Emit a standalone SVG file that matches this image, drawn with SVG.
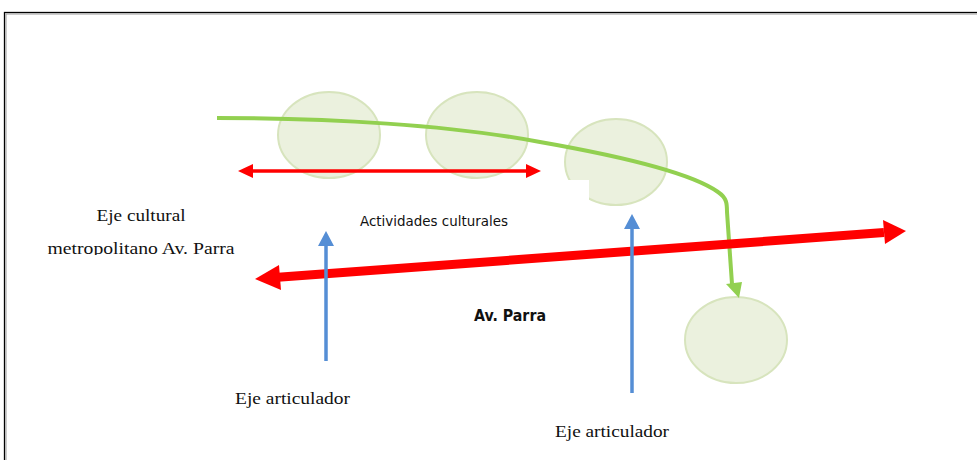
<svg xmlns="http://www.w3.org/2000/svg" width="977" height="460" viewBox="0 0 977 460">
<defs>
<style>
.circ{fill:#EBF1DE;stroke:#D7E4BD;stroke-width:2}
.lbl{font-family:"Liberation Serif","DejaVu Serif",serif;font-size:16px;fill:#111}
.narrow{font-family:"Liberation Sans Narrow","DejaVu Sans Condensed",sans-serif;font-size:14px;fill:#111}
.bold{font-family:"DejaVu Sans Condensed","Liberation Sans Narrow",sans-serif;font-size:15px;font-weight:bold;fill:#111}
</style>
<clipPath id="clipLeft"><rect x="0" y="190" width="300" height="65"/></clipPath>
</defs>
<rect width="977" height="460" fill="#fff"/>
<g id="frame">
<rect x="4.5" y="12.5" width="990" height="470" fill="none" stroke="#000" stroke-width="1.3"/>
<rect x="6" y="14" width="990" height="470" fill="none" stroke="#999" stroke-width="1"/>
</g>
<g id="node1"><ellipse class="circ" cx="329" cy="135" rx="51" ry="43"/></g>
<g id="node2"><ellipse class="circ" cx="477" cy="135" rx="51" ry="43"/></g>
<g id="node3"><ellipse class="circ" cx="616" cy="162" rx="51" ry="43"/><rect x="563" y="180" width="26" height="27" fill="#fff"/></g>
<g id="node4"><ellipse class="circ" cx="736" cy="340" rx="51" ry="43"/></g>
<g id="connectors">
<path d="M217,118 C330,118 450,125 540,142 C620,156 690,172 718,192 C727,198 727,204 727,212 L732,284" fill="none" stroke="#92D050" stroke-width="4"/>
<polygon points="726,284 742,282 739,298" fill="#92D050"/>
<line x1="252" y1="171" x2="527" y2="171" stroke="#FF0000" stroke-width="3.5"/>
<polygon points="238,171 253,164 253,178" fill="#FF0000"/>
<polygon points="541,171 526,164 526,178" fill="#FF0000"/>
<line x1="278" y1="277.3" x2="884" y2="232.6" stroke="#FF0000" stroke-width="9"/>
<polygon points="255,279 279,265 281,290" fill="#FF0000"/>
<polygon points="906,231 883,220 885,244" fill="#FF0000"/>
<line x1="326" y1="361" x2="326" y2="245" stroke="#558ED5" stroke-width="3.5"/>
<polygon points="326,231 318,246 334,246" fill="#558ED5"/>
<line x1="632" y1="393" x2="632" y2="228" stroke="#558ED5" stroke-width="3.5"/>
<polygon points="632,214 624,229 640,229" fill="#558ED5"/>
</g>
<g id="labels">
<text class="lbl" x="141" y="221" text-anchor="middle" textLength="89" lengthAdjust="spacingAndGlyphs">Eje cultural</text>
<text class="lbl" clip-path="url(#clipLeft)" x="141" y="254" text-anchor="middle" textLength="187" lengthAdjust="spacingAndGlyphs">metropolitano Av. Parra</text>
<text class="narrow" x="360" y="226" textLength="148" lengthAdjust="spacingAndGlyphs">Actividades culturales</text>
<text class="bold" x="474" y="321" textLength="72" lengthAdjust="spacingAndGlyphs">Av.  Parra</text>
<text class="lbl" x="235" y="404" textLength="115" lengthAdjust="spacingAndGlyphs">Eje articulador</text>
<text class="lbl" x="555" y="437" textLength="114" lengthAdjust="spacingAndGlyphs">Eje articulador</text>
</g>
</svg>
